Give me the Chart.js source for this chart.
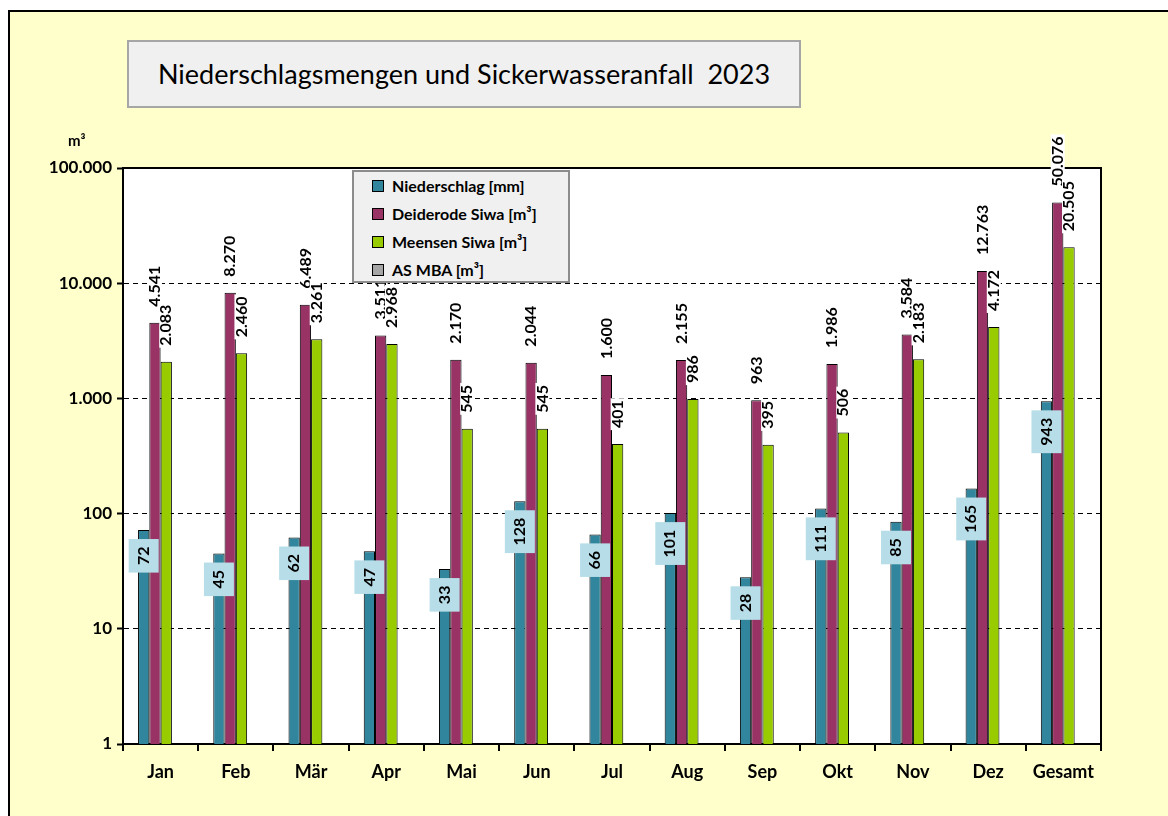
<!DOCTYPE html>
<html>
<head>
<meta charset="utf-8">
<title>Niederschlagsmengen und Sickerwasseranfall 2023</title>
<script src="https://cdn.jsdelivr.net/npm/chart.js@4.4.1/dist/chart.umd.min.js"></script>
<style>
    body { margin: 0; background: #fff; overflow: hidden; font-family: Lato, sans-serif; }
    #frame { position: absolute; left: 8px; top: 10px; width: 1200px; height: 900px; border: 2px solid #000; background: #FFFFCC; }
    #wrap { position: absolute; left: 0; top: 0; width: 1168px; height: 816px; }
    #chart { position: absolute; left: 0; top: 0; }
    #title { position: absolute; left: 127px; top: 40px; width: 670px; height: 64px; background: #F0F0F0;
             border: 2px solid #A6A6A6; font-size: 27px; color: #000; text-align: center; line-height: 64px; white-space: pre; }
    #unit { position: absolute; left: 68px; top: 131px; font-size: 15px; font-weight: bold; color: #000; }
    #legend { position: absolute; left: 352px; top: 170px; width: 214px; height: 109px; background: #F0F0F0;
              border: 2px solid #8C8C8C; padding-top: 0; }
    .item { height: 28px; line-height: 28px; font-size: 16px; font-weight: bold; color: #000; display: flex; align-items: center; }
    .box { width: 10px; height: 10px; border: 1px solid #000; margin-left: 18px; margin-right: 8px; }
</style>
</head>
<body>
<div id="frame"></div>
<div id="wrap">
    <canvas id="chart" width="1168" height="816"></canvas>
    <div id="title">Niederschlagsmengen und Sickerwasseranfall  2023</div>
    <div id="unit">m³</div>
    <div id="legend"></div>
</div>
<script>
const months = ['Jan', 'Feb', 'Mär', 'Apr', 'Mai', 'Jun', 'Jul', 'Aug', 'Sep', 'Okt', 'Nov', 'Dez', 'Gesamt'];
const niederschlag = [72, 45, 62, 47, 33, 128, 66, 101, 28, 111, 85, 165, 943];
const deiderode = [4541, 8270, 6489, 3511, 2170, 2044, 1600, 2155, 963, 1986, 3584, 12763, 50076];
const meensen = [2083, 2460, 3261, 2968, 545, 545, 401, 986, 395, 506, 2183, 4172, 20505];
const asMba = [null, null, null, null, null, null, null, null, null, null, null, null, null];
const yTicks = [1, 10, 100, 1000, 10000, 100000];

const seriesNames = ['Niederschlag [mm]', 'Deiderode Siwa [m³]', 'Meensen Siwa [m³]', 'AS MBA [m³]'];
const seriesColors = ['#31859C', '#993366', '#99CC00', '#A6A6A6'];

// german thousands separator
function fmt(v) {
    return String(v).replace(/\B(?=(\d{3})+(?!\d))/g, '.');
}

// white plot area + top/right frame
const plotFrame = {
    id: 'plotFrame',
    beforeDraw(chart) {
        const { ctx, chartArea: a } = chart;
        ctx.save();
        ctx.fillStyle = '#fff';
        ctx.fillRect(a.left, a.top, a.width, a.height);
        ctx.restore();
    },
    beforeDatasetsDraw(chart) {
        const { ctx, chartArea: a } = chart;
        ctx.save();
        ctx.strokeStyle = '#000';
        ctx.lineWidth = 2;
        ctx.beginPath();
        ctx.moveTo(a.left, a.top);
        ctx.lineTo(a.right, a.top);
        ctx.lineTo(a.right, a.bottom);
        ctx.stroke();
        ctx.restore();
    }
};

// rotated value labels
const barLabels = {
    id: 'barLabels',
    afterDatasetsDraw(chart) {
        const ctx = chart.ctx;
        ctx.save();
        ctx.font = 'bold 16px Lato';
        ctx.textBaseline = 'middle';
        [1, 2, 0].forEach(di => {
            const meta = chart.getDatasetMeta(di);
            meta.data.forEach((bar, i) => {
                const v = chart.data.datasets[di].data[i];
                if (v == null) return;
                const txt = fmt(v);
                const w = ctx.measureText(txt).width;
                ctx.save();
                ctx.translate(bar.x, bar.y);
                ctx.rotate(-Math.PI / 2);
                if (di === 0) {
                    const len = w + 15;
                    ctx.fillStyle = '#B7DEE8';
                    ctx.fillRect(-9 - len, -15, len, 30);
                    ctx.fillStyle = '#000';
                    ctx.textAlign = 'center';
                    ctx.fillText(txt, -9 - len / 2, 0);
                } else {
                    ctx.fillStyle = '#fff';
                    ctx.fillRect(14, -7, w + 4, 14);
                    ctx.fillStyle = '#000';
                    ctx.textAlign = 'left';
                    ctx.fillText(txt, 16, 0);
                }
                ctx.restore();
            });
        });
        ctx.restore();
    }
};

function buildLegend() {
    const legend = document.getElementById('legend');
    seriesNames.forEach((name, i) => {
        const row = document.createElement('div');
        row.className = 'item';
        const box = document.createElement('span');
        box.className = 'box';
        box.style.background = seriesColors[i];
        row.appendChild(box);
        row.appendChild(document.createTextNode(name));
        legend.appendChild(row);
    });
}

function displayChart() {
    const seriesData = [niederschlag, deiderode, meensen, asMba];

    new Chart(document.getElementById('chart').getContext('2d'), {
        type: 'bar',
        data: {
            labels: months,
            datasets: seriesNames.map((name, i) => ({
                label: name,
                data: seriesData[i],
                backgroundColor: seriesColors[i],
                borderColor: '#000',
                borderWidth: 1,
                categoryPercentage: 0.6,
                barPercentage: 1
            }))
        },
        options: {
            responsive: false,
            animation: false,
            layout: { padding: { left: 0, top: 168, right: 67, bottom: 0 } },
            plugins: {
                legend: { display: false },
                title: { display: false },
                tooltip: { enabled: false }
            },
            scales: {
                x: {
                    grid: { offset: true, drawOnChartArea: false, tickLength: 7, color: '#000', lineWidth: 2 },
                    border: { color: '#000', width: 2 },
                    ticks: { font: { family: 'Lato', weight: 'bold', size: 18 }, color: '#000', padding: 10 },
                    afterFit: s => { s.height = 72; }
                },
                y: {
                    type: 'logarithmic',
                    min: 1,
                    max: 100000,
                    afterBuildTicks: s => { s.ticks = yTicks.map(v => ({ value: v })); },
                    ticks: { callback: v => fmt(v), font: { family: 'Lato', weight: 'bold', size: 17 }, color: '#000', padding: 5 },
                    grid: {
                        color: c => (c.tick && (c.tick.value === 1 || c.tick.value === 100000)) ? 'rgba(0,0,0,0)' : '#000',
                        lineWidth: 1,
                        tickColor: '#000',
                        tickWidth: 2,
                        tickLength: 6
                    },
                    border: { dash: [5, 4], color: '#000', width: 2 },
                    afterFit: s => { s.width = 123; }
                }
            }
        },
        plugins: [plotFrame, barLabels]
    });
}

buildLegend();
displayChart();
</script>
</body>
</html>
